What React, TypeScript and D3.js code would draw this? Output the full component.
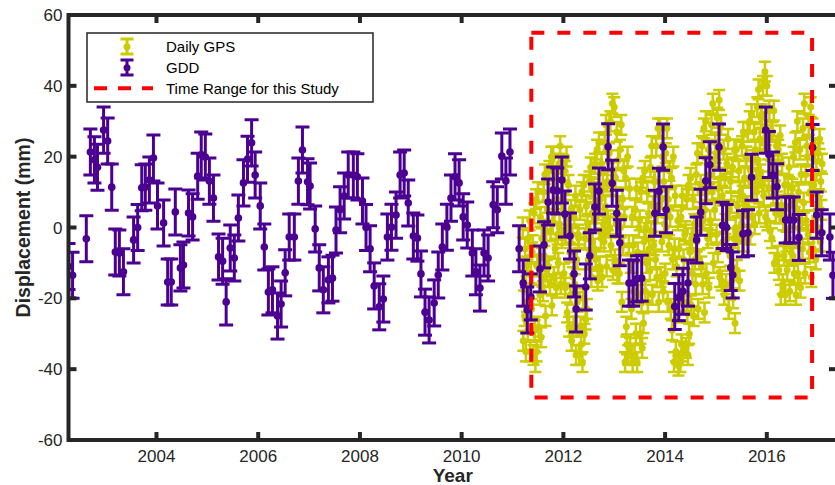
import React from 'react';
import * as d3 from 'd3';

const WIDTH = 835;
const HEIGHT = 485;
// plot box in pixels (right spine falls just outside the picture)
const margin = { l: 68.5, r: -2, t: 15, b: 45 };

const FONT = 'Liberation Sans, Arial, Helvetica, sans-serif';
const AXIS_COLOR = '#262626';
const GPS_COLOR = '#cccc00';
const GDD_COLOR = '#4b0092';

const xTicks = [2004, 2006, 2008, 2010, 2012, 2014, 2016];
const yTicks = [-60, -40, -20, 0, 20, 40, 60];
const X_DOMAIN = [2002.27, 2017.38];
const Y_DOMAIN = [-60, 60];

// study window (dashed box)
const studyYears = [2011.37, 2016.89];
const studyDisp = [-48, 55];

// GDD: roughly monthly estimates
const gddYears = [
  2002.27, 2002.35, 2002.62, 2002.7, 2002.78, 2002.84, 2002.96, 2003.04, 2003.12, 2003.19, 2003.27, 2003.35,
  2003.55, 2003.63, 2003.71, 2003.78, 2003.86, 2003.94, 2004.02, 2004.14, 2004.22, 2004.29, 2004.37, 2004.47,
  2004.53, 2004.63, 2004.71, 2004.81, 2004.88, 2004.96, 2005.04, 2005.12, 2005.22, 2005.3, 2005.37, 2005.45,
  2005.53, 2005.61, 2005.71, 2005.79, 2005.87, 2005.94, 2006.04, 2006.12, 2006.2, 2006.28, 2006.38, 2006.45,
  2006.53, 2006.61, 2006.71, 2006.79, 2006.87, 2006.97, 2007.02, 2007.12, 2007.2, 2007.28, 2007.38, 2007.46,
  2007.53, 2007.61, 2007.69, 2007.77, 2007.87, 2007.95, 2008.05, 2008.12, 2008.2, 2008.28, 2008.38, 2008.46,
  2008.54, 2008.62, 2008.71, 2008.79, 2008.87, 2008.95, 2009.05, 2009.13, 2009.2, 2009.28, 2009.36, 2009.46,
  2009.54, 2009.62, 2009.71, 2009.79, 2009.87, 2009.95, 2010.03, 2010.11, 2010.21, 2010.28, 2010.36, 2010.44,
  2010.52, 2010.62, 2010.7, 2010.79, 2010.87, 2010.95, 2011.13, 2011.21, 2011.29, 2011.36, 2011.54, 2011.62,
  2011.7, 2011.8, 2011.88, 2011.97, 2012.03, 2012.13, 2012.21, 2012.25, 2012.44, 2012.52, 2012.62, 2012.7,
  2012.88, 2012.96, 2013.05, 2013.11, 2013.29, 2013.37, 2013.45, 2013.54, 2013.8, 2013.88, 2013.96, 2014.02,
  2014.19, 2014.27, 2014.35, 2014.45, 2014.62, 2014.7, 2014.8, 2014.88, 2015.06, 2015.13, 2015.21, 2015.29,
  2015.33, 2015.53, 2015.63, 2015.7, 2015.98, 2016.04, 2016.12, 2016.2, 2016.37, 2016.45, 2016.53, 2016.63,
  2016.9, 2016.98, 2017.08, 2017.24, 2017.3,
];
const gddValues = [
  -11, -13.5, -3.2, 21.3, 19.1, 17, 27.5, 24.4, 11.4, -6.9, -7.2, -12.5,
  -3.5, 0, 11.2, 11.4, 13.4, 19.6, 6.1, 1.3, -15.4, -15.4, 4.4, -11.4,
  -10.6, 4.1, 3, 14.5, 20.5, 19.9, 13.1, 8.3, -8.3, -9.5, -21, -5.8,
  -8.6, 2.7, 12.6, 19.3, 23.9, 14.8, 6.1, -5.5, -18.2, -17.6, -25, -21.6,
  -12.8, -2.7, -2.7, 13.1, 21.9, 12.9, 11.7, -0.4, -11.4, -17.6, -14.8, -14.3,
  -0.7, 5, 8.9, 14.8, 14.8, 14.3, 7.5, 0, -6, -16.5, -22.4, -20.2,
  -2.7, 0.1, 3.5, 14.8, 15.4, 6.9, -2.4, -3, -13.1, -23.9, -26.1, -21.3,
  -13.4, -5.5, 0.1, 8.3, 14.3, 12.6, 3, 0.7, -7.2, -12.5, -17.1, -7.2,
  -8.6, 6.4, 5, 20.2, 13.1, 21.3, -6, -15.7, -23.3, -19.6, -11.7, -4.9,
  7.2, 10.6, 10.3, 13.4, 3.8, -2.4, -13.1, -23, -16.8, -8, 5.8, 10.3,
  22.8, 12.5, 4, -4.3, -15.7, -15.7, -14.5, -14.3, 4, 10.2, 22.7, 5,
  -22.3, -19.8, -18, -15.7, -3.5, 4.3, 13.2, 17.7, 22.7, 0.6, 0, -11.3,
  -13.4, -1.8, -1.5, 14.2, 27.5, 20.6, 14.8, 11.5, 2.1, 2.1, 2.1, -2.8,
  22.6, 3.5, -1.5, -2.7, -13.5,
];
const GDD_ERR = 6.5;

// Daily GPS, thinned to one reading every ~4.6 days
const GPS_START = 2011.2;
const GPS_STEP = 0.0125;
const gpsValues = [
  0, -32, -15, -25, -6, -35, -11, -21, -29, -3, -19, 2, -35, -13, -23, -7,
  -5, -36, 4, -29, -38, 8, -35, -11, 10, -28, -8, -19, 3, -31, -3, -14,
  -18, 10, -8, 15, -25, -1, -12, 5, 7, -11, 16, -16, -1, 20, -22, 1,
  20, -14, 4, -6, 14, -17, 8, -2, -10, 18, 1, 23, -16, 7, -3, 13,
  7, -13, 16, -17, -2, 20, -24, 0, 12, -28, -7, -19, 5, -32, -2, -14,
  -28, 3, -16, 9, -36, -9, -21, -2, -3, -36, 5, -28, -33, 10, -38, -20,
  12, -30, -3, -26, 6, -23, 1, -9, -9, 13, -1, 17, -14, 4, -4, 10,
  11, -6, 18, -9, 4, 22, -15, 5, 24, -11, 8, -3, 18, -14, 12, 1,
  -4, 24, 6, 29, -11, 13, 2, 19, 21, 0, 30, -5, 12, 35, -12, 14,
  34, -9, 14, 1, 27, -13, 19, 6, -13, 22, 0, 29, -21, 8, -5, 16,
  3, -38, 14, -28, -33, 20, -36, -5, 11, -34, -10, -23, 3, -38, -5, -18,
  -36, 5, -30, 11, -38, -7, -19, 0, 2, -30, 10, -21, -34, 14, -27, -4,
  16, -18, 0, -10, 10, -21, 4, -6, -12, 17, -1, 23, -19, 6, -5, 13,
  13, -9, 23, -14, 4, 28, -21, 6, 28, -14, 8, -4, 20, -18, 13, 1,
  -13, 21, 0, 28, -21, 8, -5, 16, 3, -23, 14, -29, -9, 20, -38, -6,
  9, -35, -11, -24, 2, -39, -6, -19, -38, 3, -33, 9, -35, -9, -21, -2,
  -1, -34, 8, -24, -36, 12, -30, -7, 14, -22, -3, -13, 8, -25, 1, -9,
  -16, 15, -4, 21, -23, 3, -9, 10, 12, -11, 23, -16, 2, 28, -24, 5,
  30, -13, 10, -3, 22, -17, 15, 2, -2, 29, 10, 35, -10, 17, 5, 24,
  21, -2, 31, -7, 11, 36, -14, 14, 29, -15, 9, -4, 22, -19, 14, 1,
  -16, 18, -3, 25, -23, 5, -8, 13, 7, -15, 17, -20, -3, 22, -27, 0,
  22, -12, 6, -4, 16, -15, 10, 0, 1, 23, 9, 27, -4, 14, 6, 20,
  20, 6, 27, 3, 14, 30, -2, 16, 32, 3, 19, 10, 27, 1, 22, 14,
  10, 34, 19, 39, 4, 25, 15, 31, 32, 13, 40, 9, 24, 44, 3, 26,
  40, 2, 22, 11, 33, -1, 27, 16, -3, 27, 9, 33, -10, 16, 4, 23,
  13, -8, 22, -12, 4, 26, -19, 6, 18, -16, 2, -8, 12, -19, 6, -4,
  -12, 12, -3, 17, -18, 3, -7, 9, 11, -8, 20, -13, 3, 24, -19, 5,
  30, -13, 10, -3, 22, -17, 15, 2, -6, 28, 7, 35, -13, 15, 2, 23,
  20, -2, 29, -7, 10, 34, -14, 12, 28, -6, 12, 2, 22, -9, 16, 6,
  0, 21, 8, 25, -4, 13, 5, 18,
];
const GPS_ERR = 2.8;

const ErrorBar = ({ x, y0, y1, yc, cap, color, width, r }: any) => (
  <g stroke={color} strokeWidth={width}>
    <line x1={x} x2={x} y1={y0} y2={y1} />
    <line x1={x - cap / 2} x2={x + cap / 2} y1={y0} y2={y0} />
    <line x1={x - cap / 2} x2={x + cap / 2} y1={y1} y2={y1} />
    <circle cx={x} cy={yc} r={r} fill={color} stroke="none" />
  </g>
);

const App = () => {
  const x0 = margin.l;
  const x1 = WIDTH - margin.r;
  const y0 = margin.t;
  const y1 = HEIGHT - margin.b;

  const xScale = d3.scaleLinear().domain(X_DOMAIN).range([x0, x1]);
  const yScale = d3.scaleLinear().domain(Y_DOMAIN).range([y1, y0]);

  const gps = gpsValues.map((v, i) => ({ t: GPS_START + i * GPS_STEP, v }));
  const gdd = gddYears.map((t, i) => ({ t, v: gddValues[i] }));

  const rect = d3.path();
  rect.rect(
    xScale(studyYears[0]),
    yScale(studyDisp[1]),
    xScale(studyYears[1]) - xScale(studyYears[0]),
    yScale(studyDisp[0]) - yScale(studyDisp[1])
  );

  const TICK = 8;

  return (
    <svg
      width={WIDTH}
      height={HEIGHT}
      style={{ position: 'absolute', left: 0, top: 0, background: '#fff' }}
      fontFamily={FONT}
    >
      <defs>
        <clipPath id="plot">
          <rect x={x0} y={y0} width={x1 - x0} height={y1 - y0} />
        </clipPath>
      </defs>
      <rect width={WIDTH} height={HEIGHT} fill="#fff" />

      <g clipPath="url(#plot)">
        {gps.map((d, i) => (
          <ErrorBar
            key={`p${i}`}
            x={xScale(d.t)}
            y0={yScale(d.v + GPS_ERR)}
            y1={yScale(d.v - GPS_ERR)}
            yc={yScale(d.v)}
            cap={12}
            color={GPS_COLOR}
            width={2.5}
            r={3.5}
          />
        ))}
        {gdd.map((d, i) => (
          <ErrorBar
            key={`g${i}`}
            x={xScale(d.t)}
            y0={yScale(d.v + GDD_ERR)}
            y1={yScale(d.v - GDD_ERR)}
            yc={yScale(d.v)}
            cap={14}
            color={GDD_COLOR}
            width={3}
            r={3.8}
          />
        ))}
        <path d={rect.toString()} fill="none" stroke="#ff0000" strokeWidth={4} strokeDasharray="13 13" />
      </g>

      {/* axes box, MATLAB style ticks inside */}
      <g stroke={AXIS_COLOR} strokeWidth={4}>
        <line x1={x0} x2={x1} y1={y0} y2={y0} />
        <line x1={x0} x2={x1} y1={y1} y2={y1} />
        <line x1={x0} x2={x0} y1={y0 - 2} y2={y1 + 2} />
        <line x1={x1} x2={x1} y1={y0 - 2} y2={y1 + 2} />
        {xTicks.map((t) => (
          <g key={t}>
            <line x1={xScale(t)} x2={xScale(t)} y1={y1} y2={y1 - TICK} />
            <line x1={xScale(t)} x2={xScale(t)} y1={y0} y2={y0 + TICK} />
          </g>
        ))}
        {yTicks.map((t) => (
          <g key={t}>
            <line x1={x0} x2={x0 + TICK} y1={yScale(t)} y2={yScale(t)} />
            <line x1={x1} x2={x1 - TICK} y1={yScale(t)} y2={yScale(t)} />
          </g>
        ))}
      </g>

      <g fill={AXIS_COLOR} fontSize={17}>
        {xTicks.map((t) => (
          <text key={t} x={xScale(t)} y={y1 + 22} textAnchor="middle">
            {t}
          </text>
        ))}
        {yTicks.map((t) => (
          <text key={t} x={x0 - 6} y={yScale(t) + 6} textAnchor="end">
            {t}
          </text>
        ))}
      </g>
      <text
        x={(x0 + x1) / 2}
        y={HEIGHT - 3}
        textAnchor="middle"
        fontSize={19}
        fontWeight="bold"
        fill={AXIS_COLOR}
      >
        Year
      </text>
      <text
        transform={`translate(30, ${(y0 + y1) / 2}) rotate(-90)`}
        textAnchor="middle"
        fontSize={19.5}
        fontWeight="bold"
        fill={AXIS_COLOR}
      >
        Displacement (mm)
      </text>

      {/* legend */}
      <g transform="translate(87, 33)">
        <rect width={286} height={69} fill="#fff" stroke={AXIS_COLOR} strokeWidth={1.5} />
        <ErrorBar x={40} y0={6} y1={21} yc={13.7} cap={13} color={GPS_COLOR} width={3} r={3.5} />
        <ErrorBar x={40} y0={27} y1={42} yc={34.7} cap={13} color={GDD_COLOR} width={3} r={3.5} />
        <line x1={7} x2={66} y1={55.3} y2={55.3} stroke="#ff0000" strokeWidth={4} strokeDasharray="13 11" />
        <g fontSize={15} fill="#000">
          <text x={79} y={19}>Daily GPS</text>
          <text x={79} y={40}>GDD</text>
          <text x={79} y={61}>Time Range for this Study</text>
        </g>
      </g>
    </svg>
  );
};

export default App;
